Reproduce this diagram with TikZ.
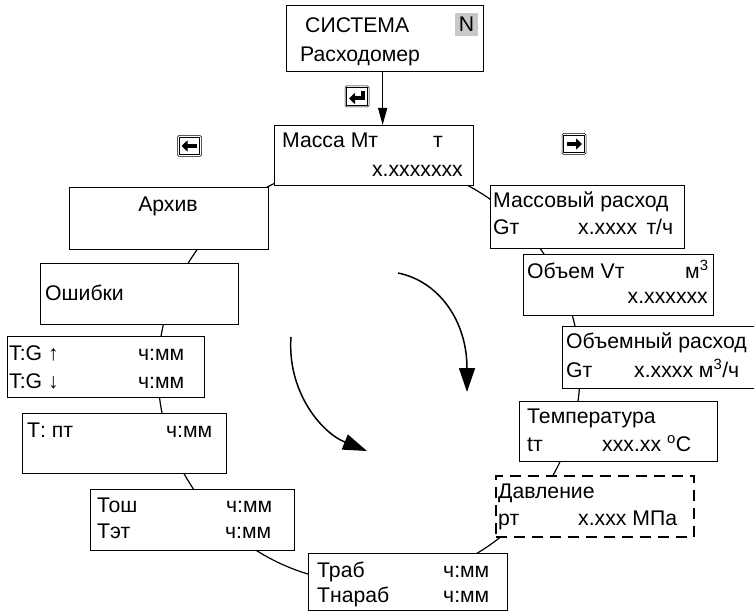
\documentclass[tikz,border=0pt]{standalone}
\usepackage{fontspec}
\setmainfont{Liberation Sans}
\usetikzlibrary{arrows.meta}
\definecolor{keygray}{RGB}{200,200,200}

\begin{document}
\begin{tikzpicture}[x=1pt, y=-1pt, font=\fontsize{21.2}{25}\selectfont,
  scr/.style={rectangle, draw, fill=white, line width=1.3pt, anchor=north west, inner sep=0pt},
  dscr/.style={scr, line width=1.8pt, dash pattern=on 11pt off 7pt},
  tl/.style={anchor=base west, inner sep=0pt},
  tr/.style={anchor=base east, inner sep=0pt},
  tc/.style={anchor=base, inner sep=0pt},
  ring/.style={circle, draw, line width=1.2pt, minimum size=422pt, inner sep=0pt},
  key/.style={rectangle, rounded corners=1.5pt, draw, line width=0.5pt,
              minimum width=24pt, minimum height=21pt, inner sep=0pt},
  karr/.style={line width=4pt, -{Triangle[length=6pt, width=11pt]}},
  a/.style={-{Triangle[length=17pt, width=9pt]}, line width=1.3pt},
  ba/.style={-{Triangle[length=24pt, width=16pt]}, line width=1.5pt}]
  \clip (0,0) rectangle (754,612);
  \node[ring] (loop) at (369,372) {};

  % top screen
  \node[scr, minimum width=197pt, minimum height=66pt] (sys) at (286,5) {};
  \node[tl] (sysA) at (305,33) {СИСТЕМА};
  \node[tl] (sysB) at (300,62) {Расходомер};
  \node[fill=keygray, minimum size=23pt, inner sep=0pt] (nkey) at (466.5,24.5) {N};

  \node[scr, minimum width=199pt, minimum height=60pt] (mass) at (274,125) {};
  \node[tl] (massA) at (282,148) {Масса Мт};
  \node[tl] (massB) at (433,148) {т};
  \node[tr] (massC) at (463,177) {x.xxxxxxx};

  % left side
  \node[scr, minimum width=199pt, minimum height=62pt] (arch) at (69,187) {};
  \node[tc] (archA) at (168,212) {Архив};

  \node[scr, minimum width=198pt, minimum height=61pt] (err) at (40,263) {};
  \node[tl] (errA) at (45,300) {Ошибки};

  \node[scr, minimum width=197pt, minimum height=61pt] (tg) at (7,336) {};
  \node[tl] (tgA) at (9,360) {T:G ↑};
  \node[tl] (tgB) at (138,360) {ч:мм};
  \node[tl] (tgC) at (9,388) {T:G ↓};
  \node[tl] (tgD) at (138,388) {ч:мм};

  \node[scr, minimum width=204pt, minimum height=60pt] (tpt) at (22,413) {};
  \node[tl] (tptA) at (27,437) {Т: пт};
  \node[tl] (tptB) at (166,437) {ч:мм};

  \node[scr, minimum width=204pt, minimum height=61pt] (tosh) at (90,489) {};
  \node[tl] (toshA) at (97,512) {Тош};
  \node[tl] (toshB) at (226,512) {ч:мм};
  \node[tl] (toshC) at (97,538) {Тэт};
  \node[tl] (toshD) at (225,538) {ч:мм};

  \node[scr, minimum width=199pt, minimum height=57pt] (trab) at (308,553) {};
  \node[tl] (trabA) at (317,577) {Траб};
  \node[tl] (trabB) at (443,577) {ч:мм};
  \node[tl] (trabC) at (317,602) {Тнараб};
  \node[tl] (trabD) at (443,602) {ч:мм};

  % right side
  \node[scr, minimum width=194pt, minimum height=63pt] (mflow) at (490,185) {};
  \node[tl] (mflowA) at (493,208) {Массовый расход};
  \node[tl] (mflowB) at (493,235) {Gт};
  \node[tl] (mflowC) at (578,235) {x.xxxx\, т/ч};

  \node[scr, minimum width=190pt, minimum height=61pt] (vol) at (523,254) {};
  \node[tl] (volA) at (527,278) {Объем Vт};
  \node[tl] (volB) at (685,278) {м\textsuperscript{3}};
  \node[tr] (volC) at (708,303) {x.xxxxxx};

  \node[scr, minimum width=200pt, minimum height=62pt] (vflow) at (562,326) {};
  \node[tl] (vflowA) at (566,348) {Объемный расход};
  \node[tl] (vflowB) at (566,377) {Gт};
  \node[tl] (vflowC) at (634,377) {x.xxxx м\textsuperscript{3}/ч};

  \node[scr, minimum width=198pt, minimum height=60pt] (temp) at (519,401) {};
  \node[tl] (tempA) at (527,423) {Температура};
  \node[tl] (tempB) at (527,451) {tт};
  \node[tl] (tempC) at (602,451) {xxx.xx};
  \node[tl] (tempD) at (667,451) {\textsuperscript{o}C};

  \node[dscr, minimum width=198pt, minimum height=61pt] (pres) at (495,475) {};
  \node[tl] (presA) at (498,498) {Давление};
  \node[tl] (presB) at (498,525) {рт};
  \node[tl] (presC) at (578,525) {x.xxx МПа};

  % keys
  \node[key] (kenter) at (357,96.5) {};
  \node[key] (kleft) at (189.5,146) {};
  \node[key] (kright) at (574,144) {};
  \foreach \k in {kenter,kleft,kright}
    \draw[line width=1.2pt] ([shift={(2,2)}]\k.north west) rectangle ([shift={(-2,-2)}]\k.south east);
  \draw[karr] ([xshift=7pt]kleft.center) -- ([xshift=-8pt]kleft.center);
  \draw[karr] ([xshift=-7pt]kright.center) -- ([xshift=8pt]kright.center);
  \draw[karr] ([shift={(6,-5)}]kenter.center) -- ([shift={(6,2)}]kenter.center)
    -- ([shift={(-8,2)}]kenter.center);

  \draw[a] ([xshift=-2.5pt]sys.south) -- ([xshift=-2.5pt]sys.south |- mass.north);

  % turning arrows
  \coordinate (r1) at (398,273);
  \coordinate (r2) at (467,392);
  \coordinate (l1) at (291,337);
  \coordinate (l2) at (367,451);
  \draw[ba] (r1) .. controls (438,281) and (467,320) .. (r2);
  \draw[ba] (l1) .. controls (287,390) and (320,432) .. (l2);
\end{tikzpicture}
\end{document}
